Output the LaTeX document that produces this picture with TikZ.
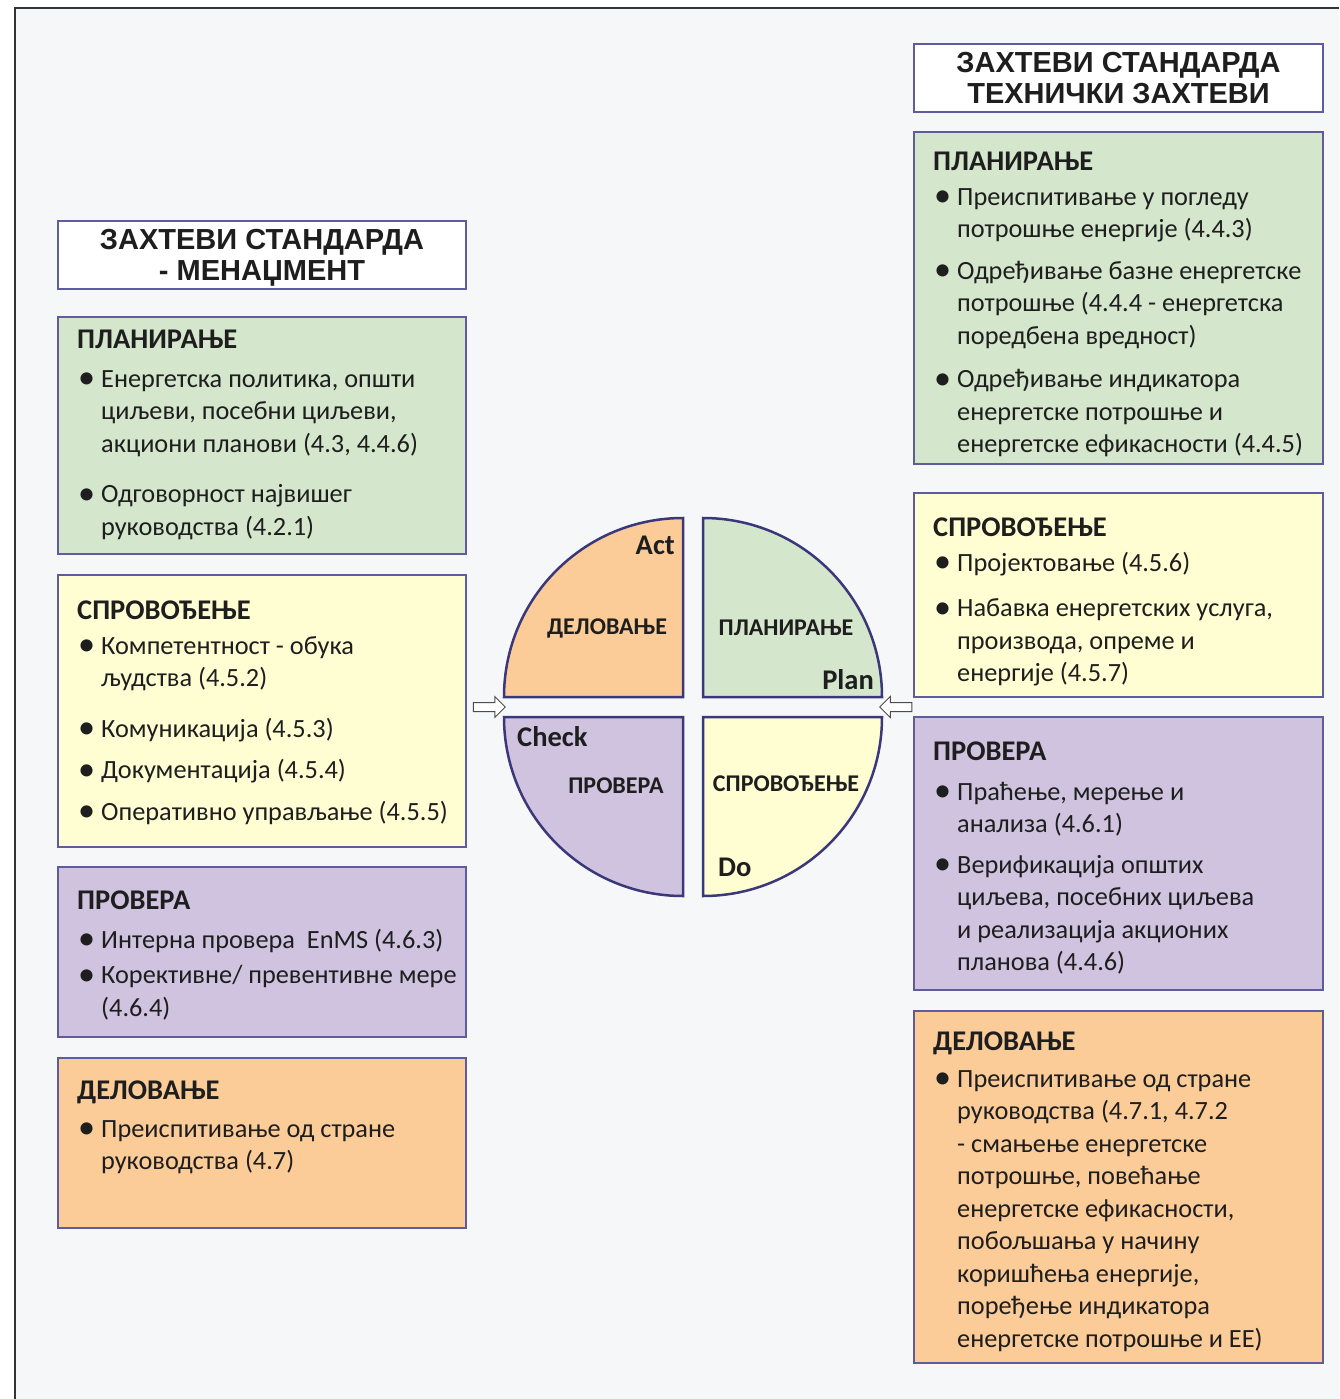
\documentclass[tikz,border=0pt]{standalone}
\usepackage{fontspec}
\setmainfont{Carlito}
\newfontfamily\titlefont{Liberation Sans}
\usetikzlibrary{positioning}
\usetikzlibrary{shapes.arrows}

\definecolor{planfill}{HTML}{D4E6CC}
\definecolor{dofill}{HTML}{FFFDD2}
\definecolor{checkfill}{HTML}{CFC3DF}
\definecolor{actfill}{HTML}{FBCB98}
\definecolor{frameline}{HTML}{5E5C9E}
\definecolor{quadline}{HTML}{3A387A}
\definecolor{pagebg}{HTML}{F6F7F9}
\definecolor{ink}{HTML}{1E1E1E}

\newcommand{\bul}{\hspace*{1pt}\makebox[23pt][l]{\raisebox{-1.5pt}{\scalebox{1.3}{\textbullet}}}}
\newcommand{\cnt}{\hspace*{24pt}}
\newcommand{\hd}[1]{{\bfseries\fontsize{28.5}{32.5}\selectfont #1}}

\begin{document}
\begin{tikzpicture}[
		x=1pt,y=-1pt,
		box/.style={draw=frameline,line width=1.5pt,rectangle,anchor=north west,inner sep=0pt,outer sep=0pt},
		titlebox/.style={box,fill=white,minimum height=68pt,align=center,text depth=0pt,text=ink,font=\titlefont\bfseries\fontsize{29}{31.5}\selectfont},
		txt/.style={anchor=north west,inner sep=0pt,align=left,text=ink,font=\fontsize{26.3}{32.5}\selectfont},
		quad/.style={draw=quadline,line width=2.5pt},
		qname/.style={font=\bfseries\fontsize{24}{24}\selectfont,inner sep=0pt,text=ink},
		qword/.style={font=\bfseries\fontsize{28.5}{28.5}\selectfont,inner sep=0pt,text=ink},
		hollow/.style={single arrow,draw=black!70,fill=white,line width=1pt,minimum width=20pt,minimum height=32pt,single arrow head extend=6pt,inner sep=4pt}
	]
		\useasboundingbox (0,0) rectangle (1339,1399);
		\fill[white] (0,0) rectangle (1339,1399);
		\fill[pagebg] (15,8) rectangle (1339,1399);
		\draw[black!80,line width=1.2pt] (15,1399) -- (15,8) -- (1339,8);

		% management column
		\node [titlebox,minimum width=408pt] (mgmt_title) at (58,221) {ЗАХТЕВИ СТАНДАРДА\\- МЕНАЏМЕНТ};
		\node [box,fill=planfill,minimum width=408pt,minimum height=237pt,below=28pt of mgmt_title] (mgmt_plan) {};
		\node [box,fill=dofill,minimum width=408pt,minimum height=272pt,below=21pt of mgmt_plan] (mgmt_do) {};
		\node [box,fill=checkfill,minimum width=408pt,minimum height=170pt,below=20pt of mgmt_do] (mgmt_check) {};
		\node [box,fill=actfill,minimum width=408pt,minimum height=170pt,below=21pt of mgmt_check] (mgmt_act) {};

		\node [txt] (mgmt_plan_txt) at ([shift={(19,13)}]mgmt_plan.north west) {\hd{ПЛАНИРАЊЕ}\\[6pt]
			\bul Енергетска политика, општи\\
			\cnt циљеви, посебни циљеви,\\
			\cnt акциони планови (4.3, 4.4.6)\\[18pt]
			\bul Одговорност највишег\\
			\cnt руководства (4.2.1)};
		\node [txt] (mgmt_do_txt) at ([shift={(19,26)}]mgmt_do.north west) {\hd{СПРОВОЂЕЊЕ}\\[2pt]
			\bul Компетентност - обука\\
			\cnt људства (4.5.2)\\[18pt]
			\bul Комуникација (4.5.3)\\[9pt]
			\bul Документација (4.5.4)\\[9pt]
			\bul Оперативно управљање (4.5.5)};
		\node [txt] (mgmt_check_txt) at ([shift={(19,24)}]mgmt_check.north west) {\hd{ПРОВЕРА}\\[6pt]
			\bul Интерна провера\ \ EnMS (4.6.3)\\[3pt]
			\bul Корективне/ превентивне мере\\
			\cnt (4.6.4)};
		\node [txt] (mgmt_act_txt) at ([shift={(19,23)}]mgmt_act.north west) {\hd{ДЕЛОВАЊЕ}\\[5pt]
			\bul Преиспитивање од стране\\
			\cnt руководства (4.7)};

		% technical column
		\node [titlebox,minimum width=409pt] (tech_title) at (914,44) {ЗАХТЕВИ СТАНДАРДА\\ТЕХНИЧКИ ЗАХТЕВИ};
		\node [box,fill=planfill,minimum width=409pt,minimum height=332pt,below=20pt of tech_title] (tech_plan) {};
		\node [box,fill=dofill,minimum width=409pt,minimum height=204pt,below=29pt of tech_plan] (tech_do) {};
		\node [box,fill=checkfill,minimum width=409pt,minimum height=273pt,below=20pt of tech_do] (tech_check) {};
		\node [box,fill=actfill,minimum width=409pt,minimum height=352pt,below=21pt of tech_check] (tech_act) {};

		\node [txt] (tech_plan_txt) at ([shift={(19,20)}]tech_plan.north west) {\hd{ПЛАНИРАЊЕ}\\[2pt]
			\bul Преиспитивање у погледу\\
			\cnt потрошње енергије (4.4.3)\\[9pt]
			\bul Одређивање базне енергетске\\
			\cnt потрошње (4.4.4 - енергетска\\
			\cnt поредбена вредност)\\[11pt]
			\bul Одређивање индикатора\\
			\cnt енергетске потрошње и\\
			\cnt енергетске ефикасности (4.4.5)};
		\node [txt] (tech_do_txt) at ([shift={(19,25)}]tech_do.north west) {\hd{СПРОВОЂЕЊЕ}\\[2pt]
			\bul Пројектовање (4.5.6)\\[13pt]
			\bul Набавка енергетских услуга,\\
			\cnt производа, опреме и\\
			\cnt енергије (4.5.7)};
		\node [txt] (tech_check_txt) at ([shift={(19,25)}]tech_check.north west) {\hd{ПРОВЕРА}\\[7pt]
			\bul Праћење, мерење и\\
			\cnt анализа (4.6.1)\\[8pt]
			\bul Верификација општих\\
			\cnt циљева, посебних циљева\\
			\cnt и реализација акционих\\
			\cnt планова (4.4.6)};
		\node [txt] (tech_act_txt) at ([shift={(19,21)}]tech_act.north west) {\hd{ДЕЛОВАЊЕ}\\[4pt]
			\bul Преиспитивање од стране\\
			\cnt руководства (4.7.1, 4.7.2\\
			\cnt - смањење енергетске\\
			\cnt потрошње, повећање\\
			\cnt енергетске ефикасности,\\
			\cnt побољшања у начину\\
			\cnt коришћења енергије,\\
			\cnt поређење индикатора\\
			\cnt енергетске потрошње и ЕЕ)};

		% PDCA circle
		\draw [quad,fill=actfill] (683,697) -- (504,697) arc[start angle=180,end angle=90,radius=179pt] -- cycle;
		\draw [quad,fill=planfill] (703,697) -- (703,518) arc[start angle=90,end angle=0,radius=179pt] -- cycle;
		\draw [quad,fill=checkfill] (683,717) -- (504,717) arc[start angle=180,end angle=270,radius=179pt] -- cycle;
		\draw [quad,fill=dofill] (703,717) -- (882,717) arc[start angle=0,end angle=-90,radius=179pt] -- cycle;

		\node [qword,anchor=east] (q_act_word) at (675,545) {Act};
		\node [qname] (q_act_name) at (607,628) {ДЕЛОВАЊЕ};
		\node [qname] (q_plan_name) at (786,628) {ПЛАНИРАЊЕ};
		\node [qword,anchor=east] (q_plan_word) at (874,680) {Plan};
		\node [qword,anchor=west] (q_check_word) at (517,737) {Check};
		\node [qname] (q_check_name) at (616,786) {ПРОВЕРА};
		\node [qname] (q_do_name) at (786,784) {СПРОВОЂЕЊЕ};
		\node [qword,anchor=west] (q_do_word) at (718,867) {Do};

		\node [hollow] (arr_in_left) at (487,707) {};
		\node [hollow,shape border rotate=180] (arr_in_right) at (898,707) {};
	\end{tikzpicture}
\end{document}
